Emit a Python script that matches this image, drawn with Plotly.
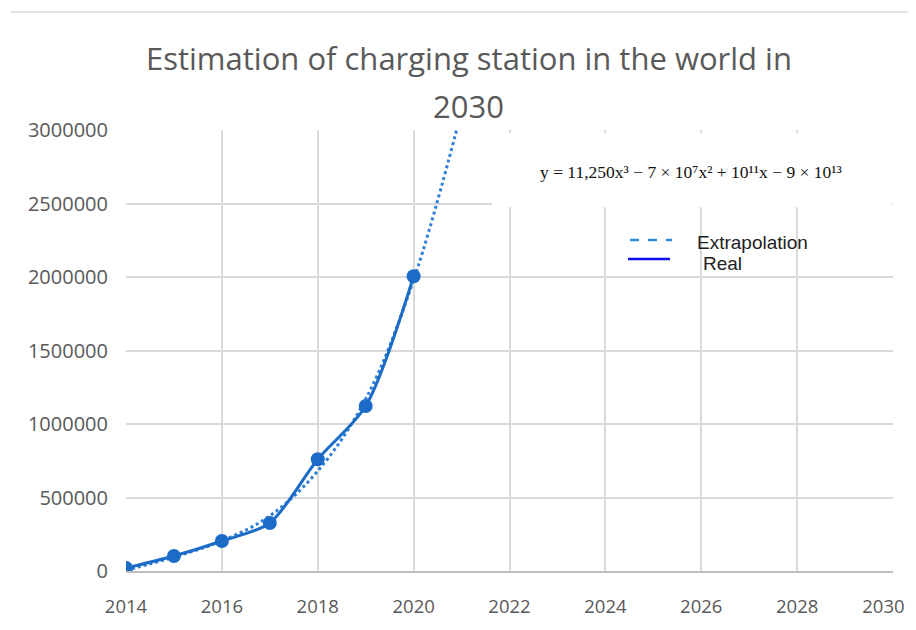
import plotly.graph_objects as go

# Data
years_real = [2014, 2015, 2016, 2017, 2018, 2019, 2020]
stations_real = [20000, 102000, 204000, 327000, 760000, 1122000, 2005000]

years_ext = [2014, 2015, 2016, 2017, 2018, 2019, 2020, 2021]
stations_ext = [5000, 95000, 205000, 375000, 680000, 1170000, 1980000, 3130000]

x_ticks = [2014, 2016, 2018, 2020, 2022, 2024, 2026, 2028, 2030]
y_ticks = [0, 500000, 1000000, 1500000, 2000000, 2500000, 3000000]

title_line1 = "Estimation of charging station in the world in"
title_line2 = "2030"
equation = "y = 11,250x³ − 7 × 10⁷x² + 10¹¹x − 9 × 10¹³"
legend_labels = ["Extrapolation", "Real"]

fig = go.Figure()

fig.add_trace(go.Scatter(
    x=years_ext, y=stations_ext, mode="lines",
    line=dict(color="#2f7fd6", width=3, dash="dot", shape="spline"),
    showlegend=False, hoverinfo="skip"))

fig.add_trace(go.Scatter(
    x=years_real, y=stations_real, mode="lines+markers",
    line=dict(color="#1c6cc7", width=3, shape="spline", smoothing=0.8),
    marker=dict(color="#1c6cc7", size=14),
    showlegend=False))

tick_font_y = dict(family="Open Sans, Calibri, sans-serif", size=20, color="#595959")
tick_font_x = dict(family="Open Sans, Calibri, sans-serif", size=18.5, color="#595959")

# last label padded on the right so its digits stay inside the visible window
x_ticktext = [str(v) for v in x_ticks]
x_ticktext[-1] = x_ticktext[-1] + "\u00a0\u00a0\u00a0\u00a0"

fig.update_xaxes(
    range=[2014, 2030], tickvals=x_ticks, ticktext=x_ticktext,
    showgrid=True, gridcolor="#d9d9d9", gridwidth=1.5,
    showline=True, linecolor="#bfbfbf", linewidth=1.5,
    zeroline=False, tickfont=tick_font_x, ticklabelstandoff=18, ticks="",
    ticklabeloverflow="allow", automargin=False)
fig.update_yaxes(
    range=[0, 3000000], tickvals=y_ticks, ticktext=[str(v) for v in y_ticks],
    showgrid=True, gridcolor="#d9d9d9", gridwidth=1.5,
    showline=False, zeroline=False, tickfont=tick_font_y, ticklabelstandoff=17, ticks="",
    automargin=False)

# The page body adds an 8px offset, so the figure is smaller and margins shifted
fig.update_layout(
    width=908, height=614,
    margin=dict(l=118, r=23, t=122, b=51),
    paper_bgcolor="white", plot_bgcolor="white",
    showlegend=False,
)

# Top separator line
fig.add_shape(type="line", xref="paper", yref="paper",
              x0=-0.15, x1=1.03, y0=(571 - 12) / 441, y1=(571 - 12) / 441,
              line=dict(color="#e3e3e3", width=2))

# Title lines
title_font = dict(family="Open Sans, Calibri, sans-serif", size=31, color="#595959")
fig.add_annotation(text=title_line1, xref="paper", yref="paper",
                   x=(469 - 126) / 767, y=(571 - 58) / 441, showarrow=False, font=title_font,
                   xanchor="center", yanchor="middle")
fig.add_annotation(text=title_line2, xref="paper", yref="paper",
                   x=(468 - 126) / 767, y=(571 - 106) / 441, showarrow=False, font=title_font,
                   xanchor="center", yanchor="middle")

# Equation box
fig.add_shape(type="rect", xref="paper", yref="paper",
              x0=0.477, x1=0.999, y0=0.825, y1=0.993,
              fillcolor="white", line=dict(width=0), layer="above")
fig.add_annotation(text=equation, xref="paper", yref="paper",
                   x=(691 - 126) / 767, y=(571 - 172) / 441, showarrow=False,
                   font=dict(family="Liberation Serif, DejaVu Serif, serif", size=17.5, color="#111111"),
                   xanchor="center", yanchor="middle")

# Custom legend
fig.add_shape(type="line", xref="paper", yref="paper",
              x0=(630 - 126) / 767, x1=(672 - 126) / 767,
              y0=(571 - 240) / 441, y1=(571 - 240) / 441,
              line=dict(color="#2e8ad6", width=2.5, dash="dash"))
fig.add_shape(type="line", xref="paper", yref="paper",
              x0=(628 - 126) / 767, x1=(670 - 126) / 767,
              y0=(571 - 259) / 441, y1=(571 - 259) / 441,
              line=dict(color="#1010e8", width=2.5))
legend_font = dict(family="Liberation Sans, Arial, sans-serif", size=19, color="#222222")
fig.add_annotation(text=legend_labels[0], xref="paper", yref="paper",
                   x=(695 - 126) / 767, y=(571 - 242) / 441, showarrow=False,
                   font=legend_font, xanchor="left", yanchor="middle")
fig.add_annotation(text=legend_labels[1], xref="paper", yref="paper",
                   x=(701 - 126) / 767, y=(571 - 263) / 441, showarrow=False,
                   font=legend_font, xanchor="left", yanchor="middle")

fig.write_html("out.html")
